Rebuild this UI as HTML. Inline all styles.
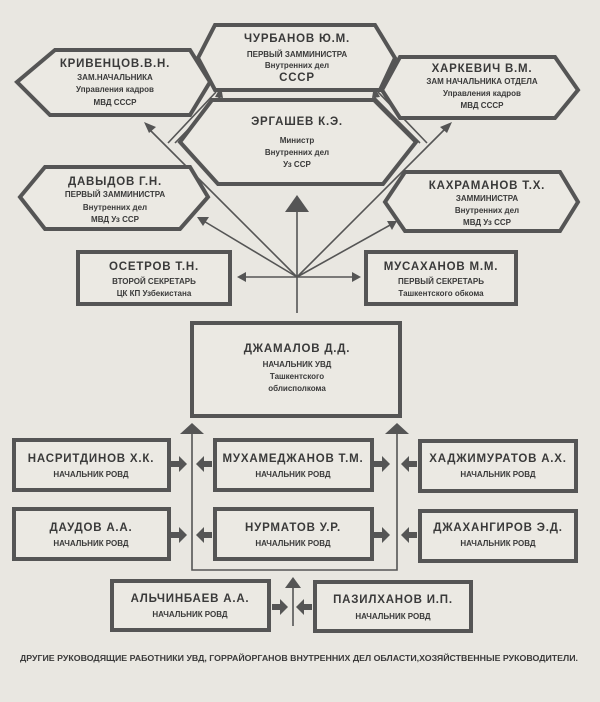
<!DOCTYPE html>
<html><head><meta charset="utf-8"><style>
html,body{margin:0;padding:0;background:#e9e7e1;}
svg{display:block}
text{font-family:"Liberation Sans",sans-serif;font-weight:bold;fill:#3a3a3a;text-anchor:middle}
.n{font-size:11.5px;letter-spacing:0.8px}
.s{font-size:8px}
.b{fill:#ebe9e3;stroke:#555;stroke-width:4}
.l{stroke:#555;stroke-width:1.6;fill:none}
.a{fill:#555}
</style></head><body>
<svg width="600" height="702" viewBox="0 0 600 702" xmlns="http://www.w3.org/2000/svg">
<rect width="600" height="702" fill="#e9e7e1"/>
<g class="l">
<line x1="297" y1="313" x2="297" y2="210"/>
<line x1="297" y1="277" x2="150" y2="130"/>
<line x1="297" y1="277" x2="202" y2="220"/>
<line x1="297" y1="277" x2="392" y2="224"/>
<line x1="297" y1="277" x2="446" y2="128"/>
<line x1="297" y1="277" x2="242" y2="277"/>
<line x1="297" y1="277" x2="355" y2="277"/>
<line x1="168" y1="143" x2="216" y2="92"/>
<line x1="175" y1="143" x2="220" y2="97"/>
<line x1="427" y1="143" x2="378" y2="92"/>
<line x1="420" y1="143" x2="374" y2="97"/>
</g>
<g class="a">
<polygon points="144,122 156,127 149,133"/>
<polygon points="197,217 209,217 203,226"/>
<polygon points="397,221 392,230 387,221"/>
<polygon points="452,122 440,127 447,133"/>
<polygon points="221,86 215,97 223,98"/>
<polygon points="374,86 380,97 372,98"/>
<polygon points="237,277 246,272 246,282"/>
<polygon points="361,277 352,272 352,282"/>
<polygon points="297,195 285,212 309,212"/>
</g>
<polygon class="b" points="215,25 375,25 395,58 380,90 215,90 198,58"/>
<text class="n" x="297" y="42">ЧУРБАНОВ Ю.М.</text>
<text class="s" x="297" y="57">ПЕРВЫЙ ЗАММИНИСТРА</text>
<text class="s" x="297" y="68">Внутренних дел</text>
<text class="n" x="297" y="81">СССР</text>

<polygon class="b" points="55,50 190,50 210,82 190,115 50,115 17,82"/>
<text class="n" x="115" y="67">КРИВЕНЦОВ.В.Н.</text>
<text class="s" x="115" y="80">ЗАМ.НАЧАЛЬНИКА</text>
<text class="s" x="115" y="92">Управления кадров</text>
<text class="s" x="115" y="105">МВД СССР</text>

<polygon class="b" points="400,57 555,57 578,90 555,118 400,118 382,90"/>
<text class="n" x="482" y="72">ХАРКЕВИЧ В.М.</text>
<text class="s" x="482" y="84">ЗАМ НАЧАЛЬНИКА ОТДЕЛА</text>
<text class="s" x="482" y="96">Управления кадров</text>
<text class="s" x="482" y="108">МВД СССР</text>

<polygon class="b" points="212,100 374,100 416,142 383,184 218,184 180,142"/>
<text class="n" x="297" y="125">ЭРГАШЕВ К.Э.</text>
<text class="s" x="297" y="143">Министр</text>
<text class="s" x="297" y="155">Внутренних дел</text>
<text class="s" x="297" y="167">Уз ССР</text>

<polygon class="b" points="45,167 190,167 208,197 180,229 45,229 20,197"/>
<text class="n" x="115" y="185">ДАВЫДОВ Г.Н.</text>
<text class="s" x="115" y="197">ПЕРВЫЙ ЗАММИНИСТРА</text>
<text class="s" x="115" y="210">Внутренних дел</text>
<text class="s" x="115" y="222">МВД Уз ССР</text>

<polygon class="b" points="405,172 560,172 578,202 560,231 405,231 385,202"/>
<text class="n" x="487" y="189">КАХРАМАНОВ Т.Х.</text>
<text class="s" x="487" y="201">ЗАММИНИСТРА</text>
<text class="s" x="487" y="213">Внутренних дел</text>
<text class="s" x="487" y="225">МВД Уз ССР</text>

<rect class="b" x="78" y="252" width="152" height="52"/>
<text class="n" x="154" y="270">ОСЕТРОВ Т.Н.</text>
<text class="s" x="154" y="284">ВТОРОЙ СЕКРЕТАРЬ</text>
<text class="s" x="154" y="296">ЦК КП Узбекистана</text>

<rect class="b" x="366" y="252" width="150" height="52"/>
<text class="n" x="441" y="270">МУСАХАНОВ М.М.</text>
<text class="s" x="441" y="284">ПЕРВЫЙ СЕКРЕТАРЬ</text>
<text class="s" x="441" y="296">Ташкентского обкома</text>

<rect class="b" x="192" y="323" width="208" height="93"/>
<text class="n" x="297" y="352">ДЖАМАЛОВ Д.Д.</text>
<text class="s" x="297" y="367">НАЧАЛЬНИК УВД</text>
<text class="s" x="297" y="379">Ташкентского</text>
<text class="s" x="297" y="391">облисполкома</text>

<g class="l">
<polyline points="192,428 192,570 397,570 397,428"/>
<line x1="293" y1="626" x2="293" y2="588"/>
</g>
<g class="a">
<polygon points="192,423 180,434 204,434"/>
<polygon points="397,423 385,434 409,434"/>
<polygon points="293,577 285,588 301,588"/>
</g>
<g class="a">
<path d="M171,461h8v-5l8,8-8,8v-5h-8z"/>
<path d="M212,461h-8v-5l-8,8 8,8v-5h8z"/>
<path d="M374,461h8v-5l8,8-8,8v-5h-8z"/>
<path d="M417,461h-8v-5l-8,8 8,8v-5h8z"/>
<path d="M171,532h8v-5l8,8-8,8v-5h-8z"/>
<path d="M212,532h-8v-5l-8,8 8,8v-5h8z"/>
<path d="M374,532h8v-5l8,8-8,8v-5h-8z"/>
<path d="M417,532h-8v-5l-8,8 8,8v-5h8z"/>
<path d="M272,604h8v-5l8,8-8,8v-5h-8z"/>
<path d="M312,604h-8v-5l-8,8 8,8v-5h8z"/>
</g>
<rect class="b" x="14" y="440" width="155" height="50"/>
<text class="n" x="91" y="462">НАСРИТДИНОВ Х.К.</text>
<text class="s" x="91" y="477">НАЧАЛЬНИК РОВД</text>
<rect class="b" x="215" y="440" width="157" height="50"/>
<text class="n" x="293" y="462">МУХАМЕДЖАНОВ Т.М.</text>
<text class="s" x="293" y="477">НАЧАЛЬНИК РОВД</text>
<rect class="b" x="420" y="441" width="156" height="50"/>
<text class="n" x="498" y="462">ХАДЖИМУРАТОВ А.Х.</text>
<text class="s" x="498" y="477">НАЧАЛЬНИК РОВД</text>

<rect class="b" x="14" y="509" width="155" height="50"/>
<text class="n" x="91" y="531">ДАУДОВ А.А.</text>
<text class="s" x="91" y="546">НАЧАЛЬНИК РОВД</text>
<rect class="b" x="215" y="509" width="157" height="50"/>
<text class="n" x="293" y="531">НУРМАТОВ У.Р.</text>
<text class="s" x="293" y="546">НАЧАЛЬНИК РОВД</text>
<rect class="b" x="420" y="511" width="156" height="50"/>
<text class="n" x="498" y="531">ДЖАХАНГИРОВ Э.Д.</text>
<text class="s" x="498" y="546">НАЧАЛЬНИК РОВД</text>

<rect class="b" x="112" y="581" width="157" height="49"/>
<text class="n" x="190" y="602">АЛЬЧИНБАЕВ А.А.</text>
<text class="s" x="190" y="617">НАЧАЛЬНИК РОВД</text>
<rect class="b" x="315" y="582" width="156" height="49"/>
<text class="n" x="393" y="603">ПАЗИЛХАНОВ И.П.</text>
<text class="s" x="393" y="619">НАЧАЛЬНИК РОВД</text>

<text x="299" y="661" style="font-size:8px" textLength="558" lengthAdjust="spacingAndGlyphs">ДРУГИЕ РУКОВОДЯЩИЕ РАБОТНИКИ УВД, ГОРРАЙОРГАНОВ ВНУТРЕННИХ ДЕЛ ОБЛАСТИ,ХОЗЯЙСТВЕННЫЕ РУКОВОДИТЕЛИ.</text>
</svg>
</body></html>
